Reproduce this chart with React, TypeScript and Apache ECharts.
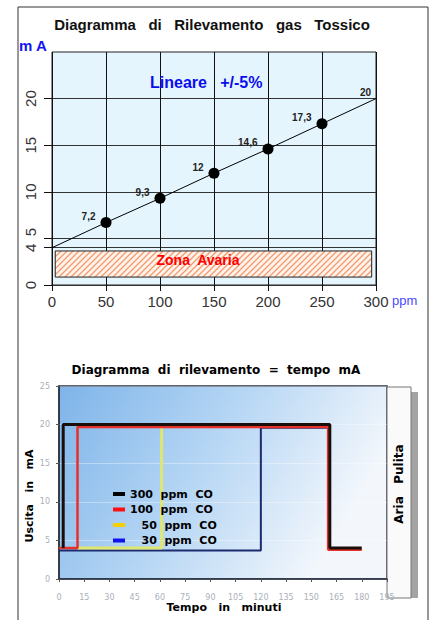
import React, { useEffect, useRef } from "react";
import * as echarts from "echarts";

// ---- Top chart data ----
const ppm = [0, 50, 100, 150, 200, 250, 300];
const mA = [4, 6.7, 9.3, 12, 14.6, 17.3, 20];
const pointLabels = ["", "7,2", "9,3", "12", "14,6", "17,3", "20"];
const topYLabels = [0, 4, 5, 10, 15, 20];
const zonePpm = [3, 296];
const zoneMA = [0.85, 3.65];

// ---- Bottom chart data ----
const seriesNames = ["300 ppm CO", "100 ppm CO", "50 ppm CO", "30 ppm CO"];
const legendText = ["300  ppm  CO", "100  ppm  CO", "\u2007 50  ppm  CO", "\u2007 30  ppm  CO"];
const minutes300 = [2.5, 2.5, 161, 161, 180];
const out300 = [4, 20, 20, 4, 4];
const minutes100 = [0, 11, 11, 160, 160, 180];
const out100 = [4, 4, 19.7, 19.7, 3.8, 3.8];
const minutes50 = [11, 61, 61, 160];
const out50 = [4, 4, 19.8, 19.8];
const minutes30 = [0, 120, 120, 160];
const out30 = [3.7, 3.7, 19.6, 19.6];

const pair = (xs: number[], ys: number[]) => xs.map((x, i) => [x, ys[i]]);

const hatchSvg =
  "<svg xmlns='http://www.w3.org/2000/svg' width='6' height='6'><rect width='6' height='6' fill='#fff3ec'/><path d='M-1 1L1 -1M0 6L6 0M5 7L7 5' stroke='#f49a6c' stroke-width='1.3'/></svg>";
const hatchUrl = "data:image/svg+xml;charset=utf-8," + encodeURIComponent(hatchSvg);

export default function App() {
  const ref = useRef<HTMLDivElement>(null);
  useEffect(() => {
    if (!ref.current) return;
    const chart = echarts.init(ref.current, null, { renderer: "svg" });
    const topFont = "Liberation Sans, Arial, sans-serif";
    const botFont = "DejaVu Sans, Verdana, sans-serif";
    const option: any = {
      animation: false,
      backgroundColor: "#ffffff",
      grid: [
        {
          left: 52, top: 52, width: 324, height: 233,
          show: true, backgroundColor: "#e5f5fd", borderColor: "#222", borderWidth: 1,
        },
        {
          left: 59, top: 386, width: 328, height: 193,
          show: true,
          backgroundColor: {
            type: "linear", x: 0, y: 0, x2: 1, y2: 0.35,
            colorStops: [
              { offset: 0, color: "#7eb4e9" },
              { offset: 0.5, color: "#b4d5f4" },
              { offset: 1, color: "#f3f7fc" },
            ],
          },
          borderColor: "#2a3240", borderWidth: 1.5,
        },
      ],
      xAxis: [
        {
          gridIndex: 0, type: "value", min: 0, max: 300, interval: 50,
          axisLine: { show: false },
          axisTick: { show: true, length: 6, lineStyle: { color: "#111" } },
          axisLabel: { fontFamily: topFont, fontSize: 15, color: "#333", margin: 9 },
          splitLine: { show: true, lineStyle: { color: "#111", width: 1 } },
        },
        {
          gridIndex: 1, type: "value", min: 0, max: 195, interval: 15,
          axisLine: { show: true, lineStyle: { color: "#2a3240", width: 1.5 } },
          axisTick: { show: true, length: 3, lineStyle: { color: "#555" } },
          axisLabel: { fontFamily: botFont, fontSize: 8, color: "#aab0b8", margin: 14 },
          splitLine: { show: false },
        },
      ],
      yAxis: [
        {
          gridIndex: 0, type: "value", min: 0, max: 25, interval: 5,
          axisLine: { show: false },
          axisTick: { show: true, length: 8, customValues: topYLabels, lineStyle: { color: "#111" } },
          axisLabel: {
            customValues: topYLabels, rotate: 90, fontFamily: topFont, fontSize: 15,
            color: "#333", margin: 14,
            formatter: (v: number) => (v === 5 ? "\u00a0\u00a0\u00a05" : String(v)),
          },
          splitLine: { show: true, lineStyle: { color: "#333", width: 1 } },
        },
        {
          gridIndex: 1, type: "value", min: 0, max: 25, interval: 5,
          axisLine: { show: true, lineStyle: { color: "#2a3240", width: 1.5 } },
          axisTick: { show: true, length: 3, lineStyle: { color: "#555" } },
          axisLabel: { fontFamily: botFont, fontSize: 8, color: "#aab0b8", margin: 9 },
          splitLine: { show: true, lineStyle: { color: "rgba(255,255,255,0.35)" } },
        },
      ],
      legend: {
        left: 108, top: 482, orient: "vertical", icon: "rect",
        itemWidth: 12, itemHeight: 4, itemGap: 1.5,
        textStyle: { fontFamily: botFont, fontWeight: "bold", fontSize: 11, color: "#000", lineHeight: 14 },
        formatter: (name: string) => legendText[seriesNames.indexOf(name)],
        data: [
          { name: seriesNames[0], itemStyle: { color: "#000" } },
          { name: seriesNames[1], itemStyle: { color: "#ff1010" } },
          { name: seriesNames[2], itemStyle: { color: "#f6cf00" } },
          { name: seriesNames[3], itemStyle: { color: "#1010f0" } },
        ],
        selectedMode: false,
      },
      series: [
        {
          type: "line", xAxisIndex: 0, yAxisIndex: 0, z: 5,
          data: pair(ppm, mA).map((p, i) => {
            const hidden = i === 0 || i === ppm.length - 1;
            return { value: p, symbol: "circle", symbolSize: hidden ? 0 : 11 };
          }),
          showAllSymbol: true,
          itemStyle: { color: "#000" },
          lineStyle: { color: "#000", width: 1 },
          label: {
            show: true, position: "left", distance: 5, offset: [0, -6],
            fontFamily: topFont, fontWeight: "bold", fontSize: 10, color: "#222",
            formatter: (p: any) => pointLabels[p.dataIndex],
          },
          markArea: {
            silent: true,
            itemStyle: {
              color: { image: hatchUrl, repeat: "repeat", imageWidth: 6, imageHeight: 6 },
              borderColor: "#222", borderWidth: 1,
            },
            data: [[{ coord: [zonePpm[0], zoneMA[1]] }, { coord: [zonePpm[1], zoneMA[0]] }]],
          },
        },
        {
          name: seriesNames[3], type: "line", xAxisIndex: 1, yAxisIndex: 1, z: 2,
          data: pair(minutes30, out30), symbol: "none",
          itemStyle: { color: "#1010f0" },
          lineStyle: { color: "#1c2a70", width: 2 },
        },
        {
          name: seriesNames[2], type: "line", xAxisIndex: 1, yAxisIndex: 1, z: 3,
          data: pair(minutes50, out50), symbol: "none",
          itemStyle: { color: "#f6cf00" },
          lineStyle: { color: "rgba(226,232,104,0.95)", width: 3 },
        },
        {
          name: seriesNames[1], type: "line", xAxisIndex: 1, yAxisIndex: 1, z: 4,
          data: pair(minutes100, out100), symbol: "none",
          itemStyle: { color: "#ff1010" },
          lineStyle: { color: "#e8302a", width: 2.5 },
        },
        {
          name: seriesNames[0], type: "line", xAxisIndex: 1, yAxisIndex: 1, z: 5,
          data: pair(minutes300, out300), symbol: "none",
          itemStyle: { color: "#000" },
          lineStyle: { color: "#1a0e0a", width: 3 },
        },
      ],
      graphic: [
        {
          type: "rect", shape: { x: 18, y: 7, width: 410, height: 640 },
          style: { fill: "none", stroke: "#333", lineWidth: 1 }, z: 0, silent: true,
        },
        {
          type: "text", x: 212, y: 24,
          style: {
            text: "Diagramma   di   Rilevamento   gas   Tossico", align: "center", verticalAlign: "middle",
            fontFamily: topFont, fontSize: 15, fontWeight: "bold", fill: "#111",
          },
        },
        {
          type: "text", x: 19, y: 45,
          style: { text: "m A", verticalAlign: "middle", fontFamily: topFont, fontSize: 15, fontWeight: "bold", fill: "#1414f0" },
        },
        {
          type: "text", x: 392, y: 300,
          style: { text: "ppm", verticalAlign: "middle", fontFamily: topFont, fontSize: 13, fill: "#4848ff" },
        },
        {
          type: "text", x: 150, y: 82, z: 10,
          style: { text: "Lineare   +/-5%", verticalAlign: "middle", fontFamily: topFont, fontSize: 16, fontWeight: "bold", fill: "#0c0cf0" },
        },
        {
          type: "text", x: 198, y: 260, z: 10,
          style: { text: "Zona  Avaria", align: "center", verticalAlign: "middle", fontFamily: topFont, fontSize: 14, fontWeight: "bold", fill: "#ff0000" },
        },
        {
          type: "text", x: 216, y: 370,
          style: {
            text: "Diagramma  di  rilevamento  =  tempo  mA", align: "center", verticalAlign: "middle",
            fontFamily: botFont, fontSize: 12, fontWeight: "bold", fill: "#000",
          },
        },
        {
          type: "rect", shape: { x: 411, y: 392, width: 7, height: 206 },
          style: { fill: "#a3a3a3" }, silent: true,
        },
        {
          type: "rect", shape: { x: 387, y: 387, width: 24, height: 211 },
          style: { fill: "#fafafa", stroke: "#777", lineWidth: 1 }, silent: true,
        },
        {
          type: "text", x: 399, y: 484, rotation: Math.PI / 2,
          style: { text: "Aria   Pulita", align: "center", verticalAlign: "middle", fontFamily: botFont, fontSize: 12, fontWeight: "bold", fill: "#000" },
        },
        {
          type: "text", x: 29, y: 496, rotation: Math.PI / 2,
          style: { text: "Uscita   in   mA", align: "center", verticalAlign: "middle", fontFamily: botFont, fontSize: 11, fontWeight: "bold", fill: "#000" },
        },
        {
          type: "text", x: 224, y: 607,
          style: { text: "Tempo   in   minuti", align: "center", verticalAlign: "middle", fontFamily: botFont, fontSize: 11, fontWeight: "bold", fill: "#000" },
        },
      ],
    };
    chart.setOption(option);
    return () => chart.dispose();
  }, []);
  return (
    <div
      ref={ref}
      style={{ position: "fixed", left: 0, top: 0, width: 432, height: 620, background: "#fff" }}
    />
  );
}
